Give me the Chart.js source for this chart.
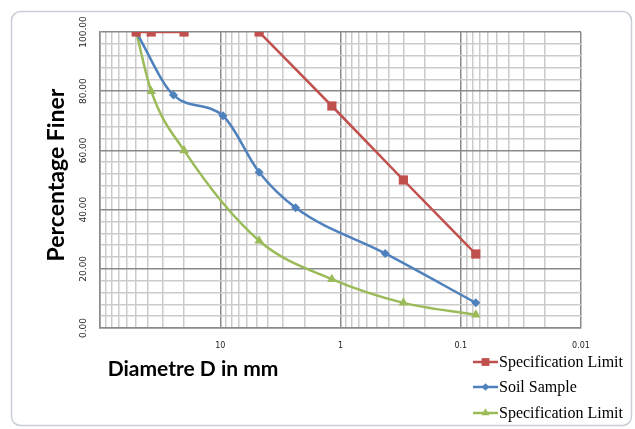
<!DOCTYPE html>
<html>
<head>
<meta charset="utf-8">
<script src="https://cdn.jsdelivr.net/npm/chart.js@4/dist/chart.umd.min.js"></script>
<style>
  html, body { margin: 0; padding: 0; background: #fff; }
  #wrap { width: 635px; height: 429px; }
</style>
</head>
<body>
<div id="wrap"><canvas id="chart" width="635" height="429"></canvas></div>
<script>
// grain sizes (mm) and percent finer for each series
const specUpperDiam = [50, 37.5, 20, 10, 4.75, 1.18, 0.3, 0.075];
const specUpperPct = [100, 100, 100, null, 100, 75, 50, 25];

const soilDiam = [50, 24.5, 9.5, 4.75, 2.36, 0.425, 0.075];
const soilPct = [100, 78.7, 71.7, 52.6, 40.6, 25.2, 8.5];

const specLowerDiam = [50, 37.5, 20, 4.75, 1.18, 0.3, 0.075];
const specLowerPct = [100, 80, 60, 29.5, 16.5, 8.5, 4.5];

const seriesLabels = ["Specification Limit", "Soil Sample", "Specification Limit"];
const xTickLabels = ["10", "1", "0.1", "0.01"];
const yTickLabels = ["0.00", "20.00", "40.00", "60.00", "80.00", "100.00"];

const RED = "#C0504D";
const BLUE = "#4F81BD";
const GREEN = "#9BBB59";

function toPoints(xs, ys) {
  return xs.map((x, i) => ({ x: x, y: ys[i] }));
}

// log grid lines: 1..9 in each decade from 0.01 to 100
const xGridValues = [];
for (let e = -2; e < 2; e++) {
  for (let s = 1; s < 10; s++) {
    xGridValues.push(Number((s * Math.pow(10, e)).toPrecision(3)));
  }
}
xGridValues.push(100);

const decorations = {
  id: "decorations",
  beforeDraw(chart) {
    const ctx = chart.ctx;
    ctx.save();
    ctx.fillStyle = "#fff";
    ctx.fillRect(0, 0, chart.width, chart.height);
    ctx.strokeStyle = "#c9ced6";
    ctx.lineWidth = 1.5;
    ctx.beginPath();
    ctx.roundRect(11.5, 11.5, 620, 414, 9);
    ctx.stroke();
    ctx.restore();
  },
  afterDraw(chart) {
    const ctx = chart.ctx;
    const yScale = chart.scales.y;
    ctx.save();

    // y tick labels, written vertically
    ctx.fillStyle = "#222";
    ctx.font = "9px 'DejaVu Sans'";
    ctx.textAlign = "center";
    ctx.textBaseline = "middle";
    yTickLabels.forEach((label) => {
      const py = yScale.getPixelForValue(parseFloat(label));
      ctx.save();
      ctx.translate(84, py);
      ctx.rotate(-Math.PI / 2);
      ctx.fillText(label, 0, 0);
      ctx.restore();
    });

    // axis titles
    ctx.fillStyle = "#000";
    ctx.font = "bold 23px Lato";
    ctx.save();
    ctx.translate(57, 175);
    ctx.rotate(-Math.PI / 2);
    ctx.fillText("Percentage Finer", 0, 0);
    ctx.restore();
    ctx.font = "bold 21px Lato";
    ctx.fillText("Diametre D in mm", 193, 369);

    // legend
    const colors = [RED, BLUE, GREEN];
    const rows = [362, 387, 413];
    ctx.font = "16px 'Liberation Serif'";
    ctx.textAlign = "left";
    chart.data.datasets.forEach((ds, i) => {
      const y = rows[i];
      ctx.strokeStyle = colors[i];
      ctx.lineWidth = 2.5;
      ctx.beginPath();
      ctx.moveTo(473, y);
      ctx.lineTo(498, y);
      ctx.stroke();
      ctx.fillStyle = colors[i];
      Chart.helpers.drawPoint(ctx, { pointStyle: ds.pointStyle, radius: ds.pointRadius * 0.85, borderWidth: 0 }, 485.5, y);
      ctx.fillStyle = "#000";
      ctx.fillText(seriesLabels[i], 499, y + 1);
    });
    ctx.restore();
  },
};

new Chart(document.getElementById("chart"), {
  type: "line",
  data: {
    datasets: [
      {
        label: seriesLabels[0],
        data: toPoints(specUpperDiam, specUpperPct),
        borderColor: RED,
        backgroundColor: RED,
        borderWidth: 2.5,
        pointStyle: "rect",
        pointRadius: 6.5,
        pointBorderWidth: 0,
        cubicInterpolationMode: "monotone",
        spanGaps: false,
      },
      {
        label: seriesLabels[1],
        data: toPoints(soilDiam, soilPct),
        borderColor: BLUE,
        backgroundColor: BLUE,
        borderWidth: 2.5,
        pointStyle: "rectRot",
        pointRadius: 4.5,
        pointBorderWidth: 0,
        cubicInterpolationMode: "monotone",
      },
      {
        label: seriesLabels[2],
        data: toPoints(specLowerDiam, specLowerPct),
        borderColor: GREEN,
        backgroundColor: GREEN,
        borderWidth: 2.5,
        pointStyle: "triangle",
        pointRadius: 5.5,
        pointBorderWidth: 0,
        cubicInterpolationMode: "monotone",
      },
    ],
  },
  options: {
    responsive: false,
    animation: false,
    layout: { padding: { top: 32, right: 54, left: 0, bottom: 0 } },
    plugins: {
      legend: { display: false },
      tooltip: { enabled: false },
    },
    scales: {
      x: {
        type: "logarithmic",
        min: 0.01,
        max: 100,
        reverse: true,
        afterBuildTicks(scale) {
          scale.ticks = xGridValues.map((v) => ({ value: v }));
        },
        afterFit(scale) {
          scale.height = 101;
        },
        ticks: {
          autoSkip: false,
          maxRotation: 0,
          padding: 13,
          color: "#222",
          font: { family: "DejaVu Sans", size: 8 },
          callback(value) {
            const label = String(value);
            return xTickLabels.includes(label) ? label : "";
          },
        },
        grid: {
          drawTicks: false,
          lineWidth: 1.5,
          color(c) {
            const v = c.tick ? c.tick.value : 0;
            const l = Math.log10(v);
            return Math.abs(l - Math.round(l)) < 1e-6 ? "#8a8a8a" : "#cbcbcb";
          },
        },
        border: { color: "#8a8a8a", width: 1.5 },
      },
      y: {
        min: 0,
        max: 100,
        afterFit(scale) {
          scale.width = 100;
        },
        ticks: { stepSize: 4, display: false },
        grid: {
          drawTicks: false,
          lineWidth: 1.5,
          color(c) {
            const v = c.tick ? c.tick.value : 0;
            return v % 20 === 0 ? "#8a8a8a" : "#cbcbcb";
          },
        },
        border: { color: "#8a8a8a", width: 1.5 },
      },
    },
  },
  plugins: [decorations],
});
</script>
</body>
</html>
